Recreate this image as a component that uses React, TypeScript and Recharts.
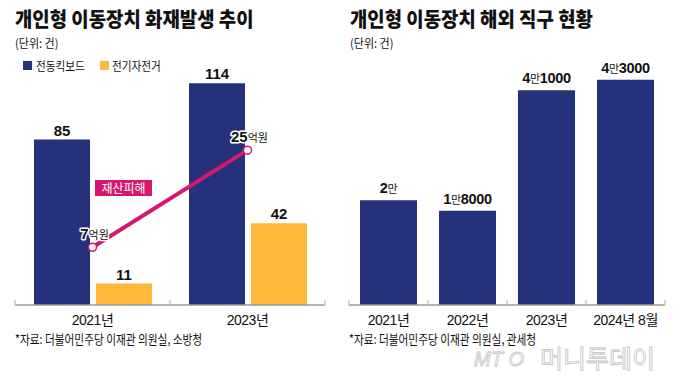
import React from 'react';
import { ComposedChart, Bar, Line, XAxis, YAxis, LabelList } from 'recharts';

// ---------- data ----------
const fireYears = ['2021년', '2023년'];
const scooterFires = [85, 114];
const bikeFires = [11, 42];
const damageEok = [7, 25];

const purchaseYears = ['2021년', '2022년', '2023년', '2024년 8월'];
const purchaseCounts = [20000, 18000, 41000, 43000];
const purchaseLabels = ['2만', '1만8000', '4만1000', '4만3000'];

// ---------- style ----------
const NAVY = '#25317a';
const YELLOW = '#fdb93c';
const PINK = '#d6176e';
const KR = '"Noto Sans CJK KR", "Noto Sans", sans-serif';
const NUM = '"Liberation Sans", Arial, "Noto Sans CJK KR", sans-serif';

const CHART_H = 384;
const TOP = 52;
const AXIS_Y = 305;
const XAXIS_H = 30;
const BOTTOM = CHART_H - AXIS_Y - XAXIS_H;

const fireData = fireYears.map((year, i) => ({
  year,
  scooter: scooterFires[i],
  bike: bikeFires[i],
  damage: damageEok[i],
}));

const purchaseData = purchaseYears.map((year, i) => ({
  year,
  count: purchaseCounts[i],
  label: purchaseLabels[i],
}));

const vbOf = (p: any) => {
  const vb = p.viewBox || {};
  return {
    x: vb.x ?? p.x,
    y: vb.y ?? p.y,
    width: vb.width ?? p.width ?? 0,
  };
};

const BarValue = (p: any) => {
  const { x, y, width } = vbOf(p);
  return (
    <text x={x + width / 2} y={y - 4} textAnchor="middle" fontFamily={NUM} fontWeight={700} fontSize={15} fill="#111">
      {p.value}
    </text>
  );
};

const ManValue = (p: any) => {
  const { x, y, width } = vbOf(p);
  const parts = String(p.value).split('만');
  return (
    <text x={x + width / 2} y={y - 7} textAnchor="middle" fontFamily={NUM} fontWeight={700} fontSize={14.5} fill="#111" letterSpacing={-0.3}>
      <tspan>{parts[0]}</tspan>
      <tspan fontFamily={KR} fontWeight={400} fontSize={11}>만</tspan>
      {parts[1] ? <tspan>{parts[1]}</tspan> : null}
    </text>
  );
};

const DamageLabel = (p: any) => {
  const { x, y } = vbOf(p);
  return (
    <text
      x={x + 2}
      y={y - 8}
      textAnchor="middle"
      fontFamily={NUM}
      fontWeight={700}
      fontSize={15}
      fill="#111"
      stroke="#fff"
      strokeWidth={3}
      paintOrder="stroke"
      strokeLinejoin="round"
    >
      <tspan>{p.value}</tspan>
      <tspan fontFamily={KR} fontWeight={400} fontSize={11}>억원</tspan>
    </text>
  );
};

const makeTick = (n: number, plotW: number) => (props: any) => {
  const { x, payload, index } = props;
  const band = plotW / n;
  return (
    <g>
      <line x1={x - band / 2} x2={x - band / 2} y1={AXIS_Y - 5} y2={AXIS_Y} stroke="#c8c8c8" strokeWidth={1.5} />
      {index === n - 1 ? (
        <line x1={x + band / 2} x2={x + band / 2} y1={AXIS_Y - 5} y2={AXIS_Y} stroke="#c8c8c8" strokeWidth={1.5} />
      ) : null}
      <text x={x} y={AXIS_Y + 20} textAnchor="middle" fontFamily={NUM} fontSize={14} fill="#111" letterSpacing={-0.5}>
        {payload.value}
      </text>
    </g>
  );
};

const abs = (left: number, top: number, extra: any = {}) => ({
  position: 'absolute' as const,
  left,
  top,
  whiteSpace: 'nowrap' as const,
  ...extra,
});

const Title = ({ left, text }: { left: number; text: string }) => (
  <div
    style={abs(left, 8, {
      fontFamily: KR,
      fontWeight: 900,
      fontSize: 20.5,
      lineHeight: '21px',
      color: '#111',
      transform: 'scaleX(0.92)',
      transformOrigin: 'left top',
    })}
  >
    {text}
  </div>
);

const Small = ({ left, top, text, size = 12, scale = 0.92 }: any) => (
  <div
    style={abs(left, top, {
      fontFamily: KR,
      fontSize: size,
      lineHeight: `${size}px`,
      color: '#111',
      transform: `scaleX(${scale})`,
      transformOrigin: 'left top',
    })}
  >
    {text}
  </div>
);

export default function App() {
  const leftW = 340;
  const leftMargin = { top: TOP, right: 15, bottom: BOTTOM, left: 15 };
  const leftPlotW = leftW - leftMargin.left - leftMargin.right;
  const rightW = 341;
  const rightMargin = { top: TOP, right: 16, bottom: BOTTOM, left: 9 };
  const rightPlotW = rightW - rightMargin.left - rightMargin.right;

  const wm = {
    lineHeight: '28px',
    color: '#fff',
    WebkitTextStroke: '0.8px #c2c2c2',
  };

  return (
    <div
      style={{
        position: 'absolute',
        left: 0,
        top: 0,
        width: 681,
        height: 384,
        background: '#fff',
        overflow: 'hidden',
        fontFamily: KR,
      }}
    >
      <Title left={15} text="개인형 이동장치 화재발생 추이" />
      <Title left={350} text="개인형 이동장치 해외 직구 현황" />
      <Small left={15} top={37} text="(단위: 건)" />
      <Small left={350} top={37} text="(단위: 건)" />

      {/* legend */}
      <div style={abs(23, 61, { width: 9, height: 9, background: NAVY })} />
      <Small left={36} top={59.5} text="전동킥보드" size={12.5} scale={0.85} />
      <div style={abs(100, 61, { width: 9, height: 9, background: YELLOW })} />
      <Small left={112} top={59.5} text="전기자전거" size={12.5} scale={0.85} />

      <div style={abs(0, 0)}>
        <ComposedChart width={leftW} height={CHART_H} data={fireData} margin={leftMargin} barGap={6}>
          <XAxis
            dataKey="year"
            height={XAXIS_H}
            axisLine={{ stroke: '#9a9a9a', strokeWidth: 1.5 }}
            tickLine={false}
            tick={makeTick(fireData.length, leftPlotW)}
            interval={0}
          />
          <YAxis yAxisId="l" hide domain={[0, 130]} allowDataOverflow />
          <YAxis yAxisId="r" orientation="right" hide domain={[-3.7, 43.2]} allowDataOverflow />
          <Bar yAxisId="l" dataKey="scooter" fill={NAVY} barSize={56} isAnimationActive={false}>
            <LabelList dataKey="scooter" content={BarValue} />
          </Bar>
          <Bar yAxisId="l" dataKey="bike" fill={YELLOW} barSize={56} isAnimationActive={false}>
            <LabelList dataKey="bike" content={BarValue} />
          </Bar>
          <Line
            yAxisId="r"
            dataKey="damage"
            stroke={PINK}
            strokeWidth={4}
            dot={{ r: 4, fill: '#fff', stroke: PINK, strokeWidth: 1.5 }}
            activeDot={false}
            isAnimationActive={false}
          >
            <LabelList dataKey="damage" content={DamageLabel} />
          </Line>
        </ComposedChart>
      </div>

      <div
        style={abs(95, 180, {
          width: 57,
          height: 16,
          background: PINK,
          color: '#fff',
          fontSize: 12,
          lineHeight: '16px',
          textAlign: 'center',
          fontFamily: KR,
        })}
      >
        재산피해
      </div>

      <div style={abs(340, 0)}>
        <ComposedChart width={rightW} height={CHART_H} data={purchaseData} margin={rightMargin}>
          <XAxis
            dataKey="year"
            height={XAXIS_H}
            axisLine={{ stroke: '#9a9a9a', strokeWidth: 1.5 }}
            tickLine={false}
            tick={makeTick(purchaseData.length, rightPlotW)}
            interval={0}
          />
          <YAxis hide domain={[0, 48300]} allowDataOverflow />
          <Bar dataKey="count" fill={NAVY} barSize={57} isAnimationActive={false}>
            <LabelList dataKey="label" content={ManValue} />
          </Bar>
        </ComposedChart>
      </div>

      <Small left={15} top={332} text="*자료: 더불어민주당 이재관 의원실, 소방청" size={13} scale={0.82} />
      <Small left={349} top={332} text="*자료: 더불어민주당 이재관 의원실, 관세청" size={13} scale={0.82} />

      <div style={abs(474, 345, { ...wm, fontSize: 20, fontFamily: NUM, fontStyle: 'italic' })}>MT O</div>
      <div style={abs(540, 343, { ...wm, fontSize: 25, fontFamily: KR })}>머니투데이</div>
    </div>
  );
}
